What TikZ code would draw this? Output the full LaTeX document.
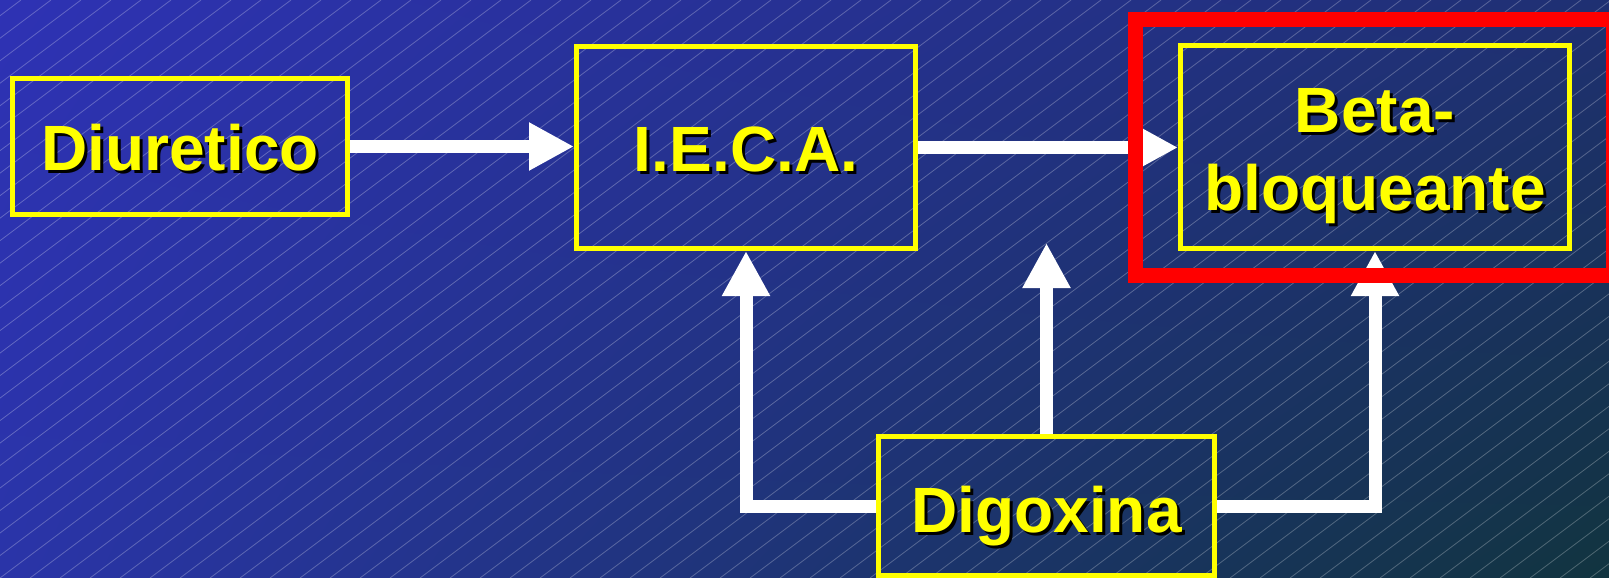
\documentclass[tikz,border=0pt]{standalone}
\usepackage{fontspec}
\setmainfont{Liberation Sans}
\usetikzlibrary{arrows.meta,shadings,calc}

\definecolor{bgTL}{HTML}{2E32B4}
\definecolor{bgTR}{HTML}{1F3072}
\definecolor{bgBL}{HTML}{2A34A8}
\definecolor{bgBR}{HTML}{11343F}
\definecolor{boxyellow}{HTML}{FFFF00}
\definecolor{framered}{HTML}{FF0000}

\tikzset{
  box/.style={draw=boxyellow, line width=5pt, inner sep=0pt},
  frame/.style={draw=framered, line width=15pt, inner sep=0pt},
  flow/.style={draw=white, line width=13pt, -{Triangle[length=45pt,width=45pt]}},
  hatch/.style={draw=white, opacity=0.26, line width=0.8pt},
  lbl/.style={anchor=base, inner sep=0pt, align=center, text=boxyellow,
              font=\fontsize{64}{78}\selectfont\bfseries},
  lblshadow/.style={lbl, text=black},
}

% yellow label with a black drop shadow
\newcommand\shadowlabel[2]{%
  \node[lblshadow] at ([shift={(3,3)}]#1) {#2};
  \node[lbl] at (#1) {#2};}

\begin{document}
\begin{tikzpicture}[x=1pt,y=-1pt]
  \useasboundingbox (0,0) rectangle (1609,578);

  % background gradient with fine diagonal lines
  \shade[upper left=bgTL, upper right=bgTR, lower left=bgBL, lower right=bgBR]
    (0,0) rectangle (1609,578);
  \begin{scope}
    \clip (0,0) rectangle (1609,578);
    \foreach \k in {-26,...,53}
      \draw[hatch] (\k*30,578) -- ++(771,-578);
  \end{scope}

  % boxes
  \node[box, minimum width=335pt, minimum height=136pt] (diu)  at (180,146.5) {};
  \node[box, minimum width=339pt, minimum height=202pt] (ieca) at (746,147.5) {};
  \node[box, minimum width=389pt, minimum height=203pt] (beta) at (1375,147) {};
  \node[box, minimum width=336pt, minimum height=139pt] (dig)  at (1046.5,506) {};
  \coordinate (gaptip) at (1046.5,243);

  % connectors
  \draw[flow] (diu.east) -- (diu.east -| ieca.west);
  \draw[flow] (ieca.east) -- (ieca.east -| beta.west);
  \draw[flow] (dig.west) -| (ieca.south);
  \draw[flow] (dig.north) -- (gaptip);
  \draw[flow] (dig.east) -| (beta.south);

  % labels (the two-line label is anchored on its last baseline)
  \shadowlabel{$(diu.center)+(0,23.5)$}{Diuretico}
  \shadowlabel{$(ieca.center)+(0,23.5)$}{I.E.C.A.}
  \shadowlabel{$(beta.center)+(0,63)$}{Beta-\\bloqueante}
  \shadowlabel{$(dig.center)+(0,26)$}{Digoxina}

  % highlight frame
  \node[frame, minimum width=478pt, minimum height=256pt] (focus) at (1374,147.5) {};
\end{tikzpicture}
\end{document}
